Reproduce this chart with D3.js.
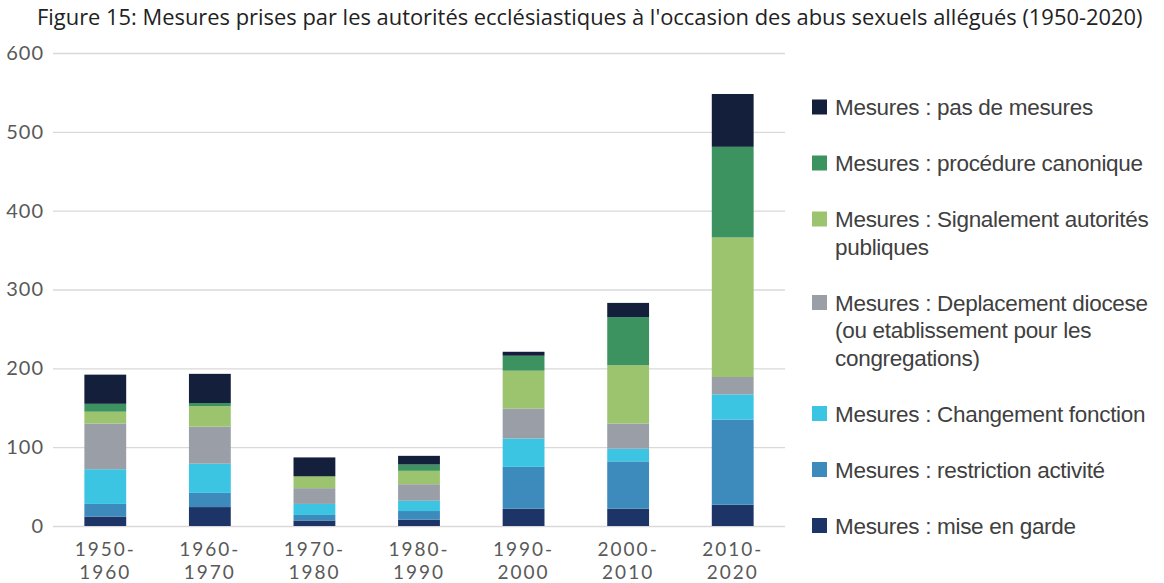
<!DOCTYPE html>
<html>
<head>
<meta charset="utf-8">
<script src="https://cdn.jsdelivr.net/npm/d3@7"></script>
<style>
  body { margin: 0; background: #fff; }
  .y-axis text, .x-axis text { font-family: Lato, "DejaVu Sans", sans-serif; fill: #595959; }
  .legend text { font-family: "Liberation Sans Narrow", "Liberation Sans", sans-serif; fill: #404040; }
</style>
</head>
<body>
<div class="chart"></div>
<script>
// periods on the x axis
const categories = ["1950-1960", "1960-1970", "1970-1980", "1980-1990", "1990-2000", "2000-2010", "2010-2020"]

// one array per measure, bottom of the stack first
const miseEnGarde  = [12, 24, 7, 8, 22, 22, 27]
const restriction  = [16, 18, 7, 11, 53, 60, 108]
const changement   = [44, 37, 14, 13, 36, 16, 32]
const deplacement  = [58, 47, 20, 21, 38, 32, 22]
const signalement  = [15, 26, 15, 17, 48, 74, 177]
const canonique    = [10, 4, 0, 8, 19, 61, 115]
const pasDeMesures = [37, 37, 24, 11, 5, 18, 67]

const yTicks = [0, 100, 200, 300, 400, 500, 600]

const seriesKeys = ["mise", "restriction", "changement", "deplacement", "signalement", "canonique", "pas"]
const seriesLabels = {
    mise: ["Mesures : mise en garde"],
    restriction: ["Mesures : restriction activité"],
    changement: ["Mesures : Changement fonction"],
    deplacement: ["Mesures : Deplacement diocese", "(ou etablissement pour les", "congregations)"],
    signalement: ["Mesures : Signalement autorités", "publiques"],
    canonique: ["Mesures : procédure canonique"],
    pas: ["Mesures : pas de mesures"]
}
const colors = {
    mise: "#1c3466",
    restriction: "#3d8bbd",
    changement: "#3cc5e2",
    deplacement: "#9a9fa7",
    signalement: "#9cc36e",
    canonique: "#3d9360",
    pas: "#141f3b"
}

const data = categories.map((c, i) => ({
    period: c,
    mise: miseEnGarde[i],
    restriction: restriction[i],
    changement: changement[i],
    deplacement: deplacement[i],
    signalement: signalement[i],
    canonique: canonique[i],
    pas: pasDeMesures[i]
}))

const config = { width: 1164, height: 583 }
const plot = { left: 53, right: 785, top: 53, bottom: 526 }

const svg = d3.select(".chart")
              .append("svg")
              .attr("width", config.width)
              .attr("height", config.height)

// title, sized to span the same width as the reference
const title = svg.append("text")
                 .attr("x", 37)
                 .attr("y", 25)
                 .style("font-family", "\"Open Sans\", sans-serif")
                 .style("font-size", "20px")
                 .attr("fill", "#222")
                 .text("Figure 15: Mesures prises par les autorités ecclésiastiques à l'occasion des abus sexuels allégués (1950-2020)")
const tw = title.node().getComputedTextLength()
title.style("font-size", (20 * 1106 / tw) + "px")

const xScale = d3.scaleBand()
                 .range([plot.left, plot.right])
                 .paddingInner(0.6)
                 .paddingOuter(0.3)
                 .domain(categories)

const yScale = d3.scaleLinear()
                 .range([plot.bottom, plot.top])
                 .domain([0, 600])

const yAxis = d3.axisLeft(yScale)
                .tickValues(yTicks)
                .tickSize(-(plot.right - plot.left))
                .tickPadding(9)

svg.append("g")
   .attr("class", "y-axis")
   .attr("transform", `translate(${plot.left}, 0)`)
   .call(yAxis)
   .call(g => g.select(".domain").remove())
   .call(g => g.selectAll("line").attr("stroke", "#d9d9d9").attr("stroke-width", 1.3))
   .call(g => g.selectAll("text").style("font-size", "20px").style("letter-spacing", "1px"))

const stacked = d3.stack().keys(seriesKeys)(data)

svg.append("g")
   .selectAll("g")
   .data(stacked)
   .join("g")
   .attr("fill", d => colors[d.key])
   .selectAll("rect")
   .data(d => d)
   .join("rect")
   .attr("x", d => xScale(d.data.period))
   .attr("y", d => yScale(d[1]))
   .attr("width", xScale.bandwidth())
   .attr("height", d => yScale(d[0]) - yScale(d[1]))

// category labels on two lines
const xAxis = svg.append("g").attr("class", "x-axis")
xAxis.selectAll("text")
     .data(categories)
     .join("text")
     .attr("x", d => xScale(d) + xScale.bandwidth() / 2)
     .attr("y", 556)
     .attr("text-anchor", "middle")
     .style("font-size", "19px")
     .style("letter-spacing", "2px")
     .each(function (d) {
         const parts = d.split("-")
         const t = d3.select(this)
         t.append("tspan").attr("x", xScale(d) + xScale.bandwidth() / 2).text(parts[0] + "-")
         t.append("tspan").attr("x", xScale(d) + xScale.bandwidth() / 2).attr("dy", 23).text(parts[1])
     })

// legend, top entry first
const legendOrder = seriesKeys.slice().reverse()
const legend = svg.append("g").attr("class", "legend")
let ly = 107
legendOrder.forEach(k => {
    const g = legend.append("g").attr("transform", `translate(812, ${ly})`)
    g.append("rect")
     .attr("x", 0)
     .attr("y", -7.5)
     .attr("width", 15)
     .attr("height", 15)
     .attr("fill", colors[k])
    const t = g.append("text")
               .attr("x", 23)
               .attr("y", 8)
               .style("font-size", "22.5px")
               .style("letter-spacing", "-0.3px")
    seriesLabels[k].forEach((line, i) => {
        t.append("tspan").attr("x", 23).attr("dy", i === 0 ? 0 : 27.5).text(line)
    })
    ly += 56 + 27.5 * (seriesLabels[k].length - 1)
})
</script>
</body>
</html>
